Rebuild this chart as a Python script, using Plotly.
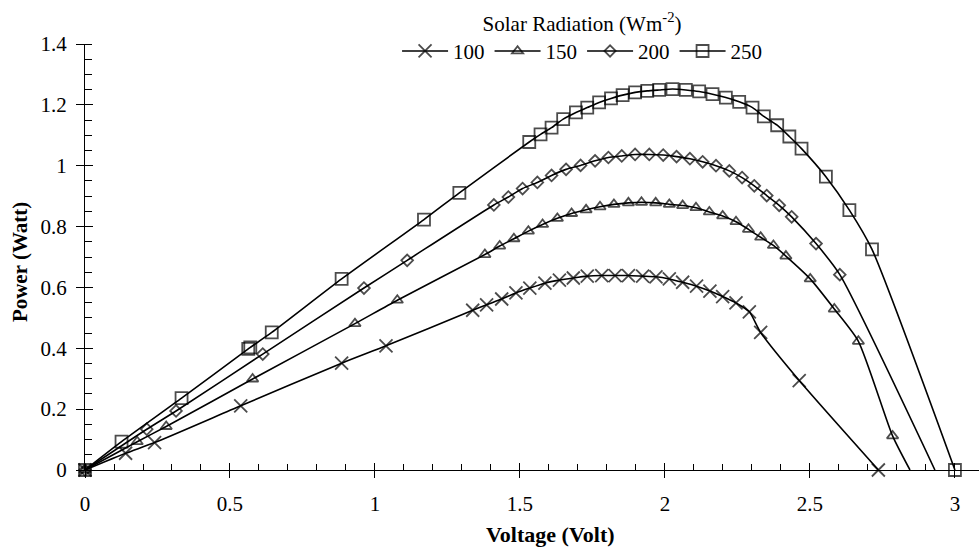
import plotly.graph_objects as go

# ---- data ----
V100 = [0, 0.14, 0.24, 0.537, 0.885, 1.038, 1.337, 1.385, 1.437, 1.486, 1.534, 1.586, 1.636, 1.684,
        1.732, 1.782, 1.828, 1.874, 1.923, 1.969, 2.015, 2.061, 2.109, 2.155, 2.199, 2.245, 2.291,
        2.330, 2.463, 2.736]
P100 = [0, 0.055, 0.09, 0.211, 0.351, 0.408, 0.525, 0.543, 0.562, 0.582, 0.598, 0.614, 0.624, 0.631,
        0.637, 0.639, 0.639, 0.639, 0.637, 0.635, 0.628, 0.617, 0.604, 0.588, 0.570, 0.549, 0.520,
        0.452, 0.294, 0.0]

V150 = [0, 0.18, 0.28, 0.578, 0.931, 1.077, 1.379, 1.430, 1.479, 1.529, 1.578, 1.629, 1.678, 1.728,
        1.776, 1.824, 1.874, 1.919, 1.968, 2.015, 2.061, 2.107, 2.153, 2.199, 2.245, 2.288, 2.330,
        2.374, 2.417, 2.501, 2.584, 2.667, 2.785, 2.845]
P150 = [0, 0.093, 0.143, 0.299, 0.481, 0.558, 0.708, 0.736, 0.760, 0.785, 0.807, 0.827, 0.843, 0.855,
        0.865, 0.873, 0.878, 0.880, 0.878, 0.873, 0.869, 0.862, 0.848, 0.835, 0.816, 0.791, 0.765,
        0.738, 0.703, 0.628, 0.529, 0.423, 0.112, 0.0]

V200 = [0, 0.213, 0.314, 0.613, 0.962, 1.111, 1.410, 1.460, 1.509, 1.560, 1.609, 1.659, 1.709, 1.759,
        1.805, 1.851, 1.897, 1.946, 1.994, 2.040, 2.086, 2.130, 2.176, 2.222, 2.266, 2.308, 2.351,
        2.394, 2.437, 2.521, 2.603, 2.931]
P200 = [0, 0.134, 0.194, 0.381, 0.598, 0.689, 0.871, 0.897, 0.925, 0.945, 0.968, 0.988, 1.001, 1.016,
        1.027, 1.032, 1.037, 1.037, 1.035, 1.030, 1.023, 1.013, 1.000, 0.983, 0.961, 0.934, 0.902,
        0.870, 0.832, 0.744, 0.642, 0.0]

V250 = [0, 0.126, 0.333, 0.563, 0.570, 0.644, 0.885, 1.169, 1.291, 1.532, 1.571, 1.609, 1.649, 1.693,
        1.732, 1.773, 1.814, 1.854, 1.897, 1.939, 1.980, 2.026, 2.072, 2.118, 2.164, 2.210, 2.256,
        2.302, 2.341, 2.387, 2.429, 2.471, 2.555, 2.636, 2.714, 3.0]
P250 = [0, 0.093, 0.236, 0.398, 0.403, 0.452, 0.628, 0.823, 0.911, 1.078, 1.103, 1.125, 1.153, 1.175,
        1.191, 1.208, 1.221, 1.232, 1.241, 1.246, 1.249, 1.252, 1.249, 1.244, 1.235, 1.224, 1.210,
        1.191, 1.162, 1.133, 1.096, 1.056, 0.964, 0.854, 0.725, 0.0]

SERIES_NAMES = ["100", "150", "200", "250"]
LEGEND_TITLE = "Solar Radiation (Wm<sup>-2</sup>)"
X_TITLE = "Voltage (Volt)"
Y_TITLE = "Power (Watt)"

FONT = "Liberation Serif, 'Times New Roman', serif"

series = [
    (V100, P100, "x-thin", 13, True),
    (V150, P150, "triangle-up-open", 10, False),
    (V200, P200, "diamond-open", 9, False),
    (V250, P250, "square-open", 12, True),
]

fig = go.Figure()
for name, (vx, py, sym, sz, last_marker) in zip(SERIES_NAMES, series):
    sizes = [sz] * len(vx)
    if not last_marker:
        sizes[-1] = 0
    fig.add_trace(go.Scatter(
        x=vx, y=py, name=name, mode="lines+markers", cliponaxis=False,
        line=dict(color="black", width=1.6, shape="spline", smoothing=0.6),
        marker=dict(symbol=sym, size=sizes, color="black",
                    line=dict(color="black", width=1.8)),
    ))

# invisible trace for overlay axes (major ticks crossing the axis lines)
fig.add_trace(go.Scatter(x=[0], y=[0], xaxis="x2", yaxis="y2", mode="markers",
                         marker=dict(opacity=0), showlegend=False, hoverinfo="skip"))

XR = [0, 3.083]
YR = [0, 1.4]
tickfont = dict(family=FONT, size=21, color="black")

fig.update_layout(
    width=979, height=552,
    margin=dict(l=85, r=0, t=44, b=82, pad=0),
    paper_bgcolor="white", plot_bgcolor="white",
    font=dict(family=FONT, color="black"),
    showlegend=True,
    legend=dict(
        orientation="h", x=0.556, xanchor="center", y=1.095, yanchor="top",
        title=dict(text=LEGEND_TITLE, side="top center", font=dict(family=FONT, size=21)),
        font=dict(family=FONT, size=21, color="black"),
        itemwidth=46, bgcolor="rgba(0,0,0,0)", tracegroupgap=0,
    ),
    xaxis=dict(
        range=XR, tick0=0, dtick=0.5, showline=True, linecolor="black", linewidth=1,
        ticks="outside", ticklen=7, tickwidth=1, tickcolor="black",
        minor=dict(ticks="inside", tick0=0, dtick=0.1, ticklen=6, tickwidth=1, tickcolor="black"),
        showgrid=False, zeroline=False, tickfont=tickfont, ticklabelstandoff=8,
    ),
    yaxis=dict(
        range=YR, tick0=0, dtick=0.2, showline=True, linecolor="black", linewidth=1,
        ticks="outside", ticklen=8, tickwidth=1, tickcolor="black",
        minor=dict(ticks="inside", tick0=0, dtick=0.05, ticklen=7, tickwidth=1, tickcolor="black"),
        showgrid=False, zeroline=False, tickfont=tickfont, ticklabelstandoff=5,
    ),
    xaxis2=dict(
        range=XR, overlaying="x", anchor="y", side="bottom", tick0=0, dtick=0.5,
        ticks="inside", ticklen=7, tickwidth=1, tickcolor="black",
        showticklabels=False, showline=False, showgrid=False, zeroline=False,
    ),
    yaxis2=dict(
        range=YR, overlaying="y", anchor="x", side="left", tick0=0, dtick=0.2,
        ticks="inside", ticklen=8, tickwidth=1, tickcolor="black",
        showticklabels=False, showline=False, showgrid=False, zeroline=False,
    ),
    annotations=[
        dict(text="<b>" + X_TITLE + "</b>", xref="paper", yref="paper", x=0.521, y=-0.152,
             xanchor="center", yanchor="middle", showarrow=False,
             font=dict(family=FONT, size=22, color="black")),
        dict(text="<b>" + Y_TITLE + "</b>", xref="paper", yref="paper", x=-0.0727, y=0.488,
             xanchor="center", yanchor="middle", showarrow=False, textangle=-90,
             font=dict(family=FONT, size=21, color="black")),
    ],
)

fig.write_html("out.html")
